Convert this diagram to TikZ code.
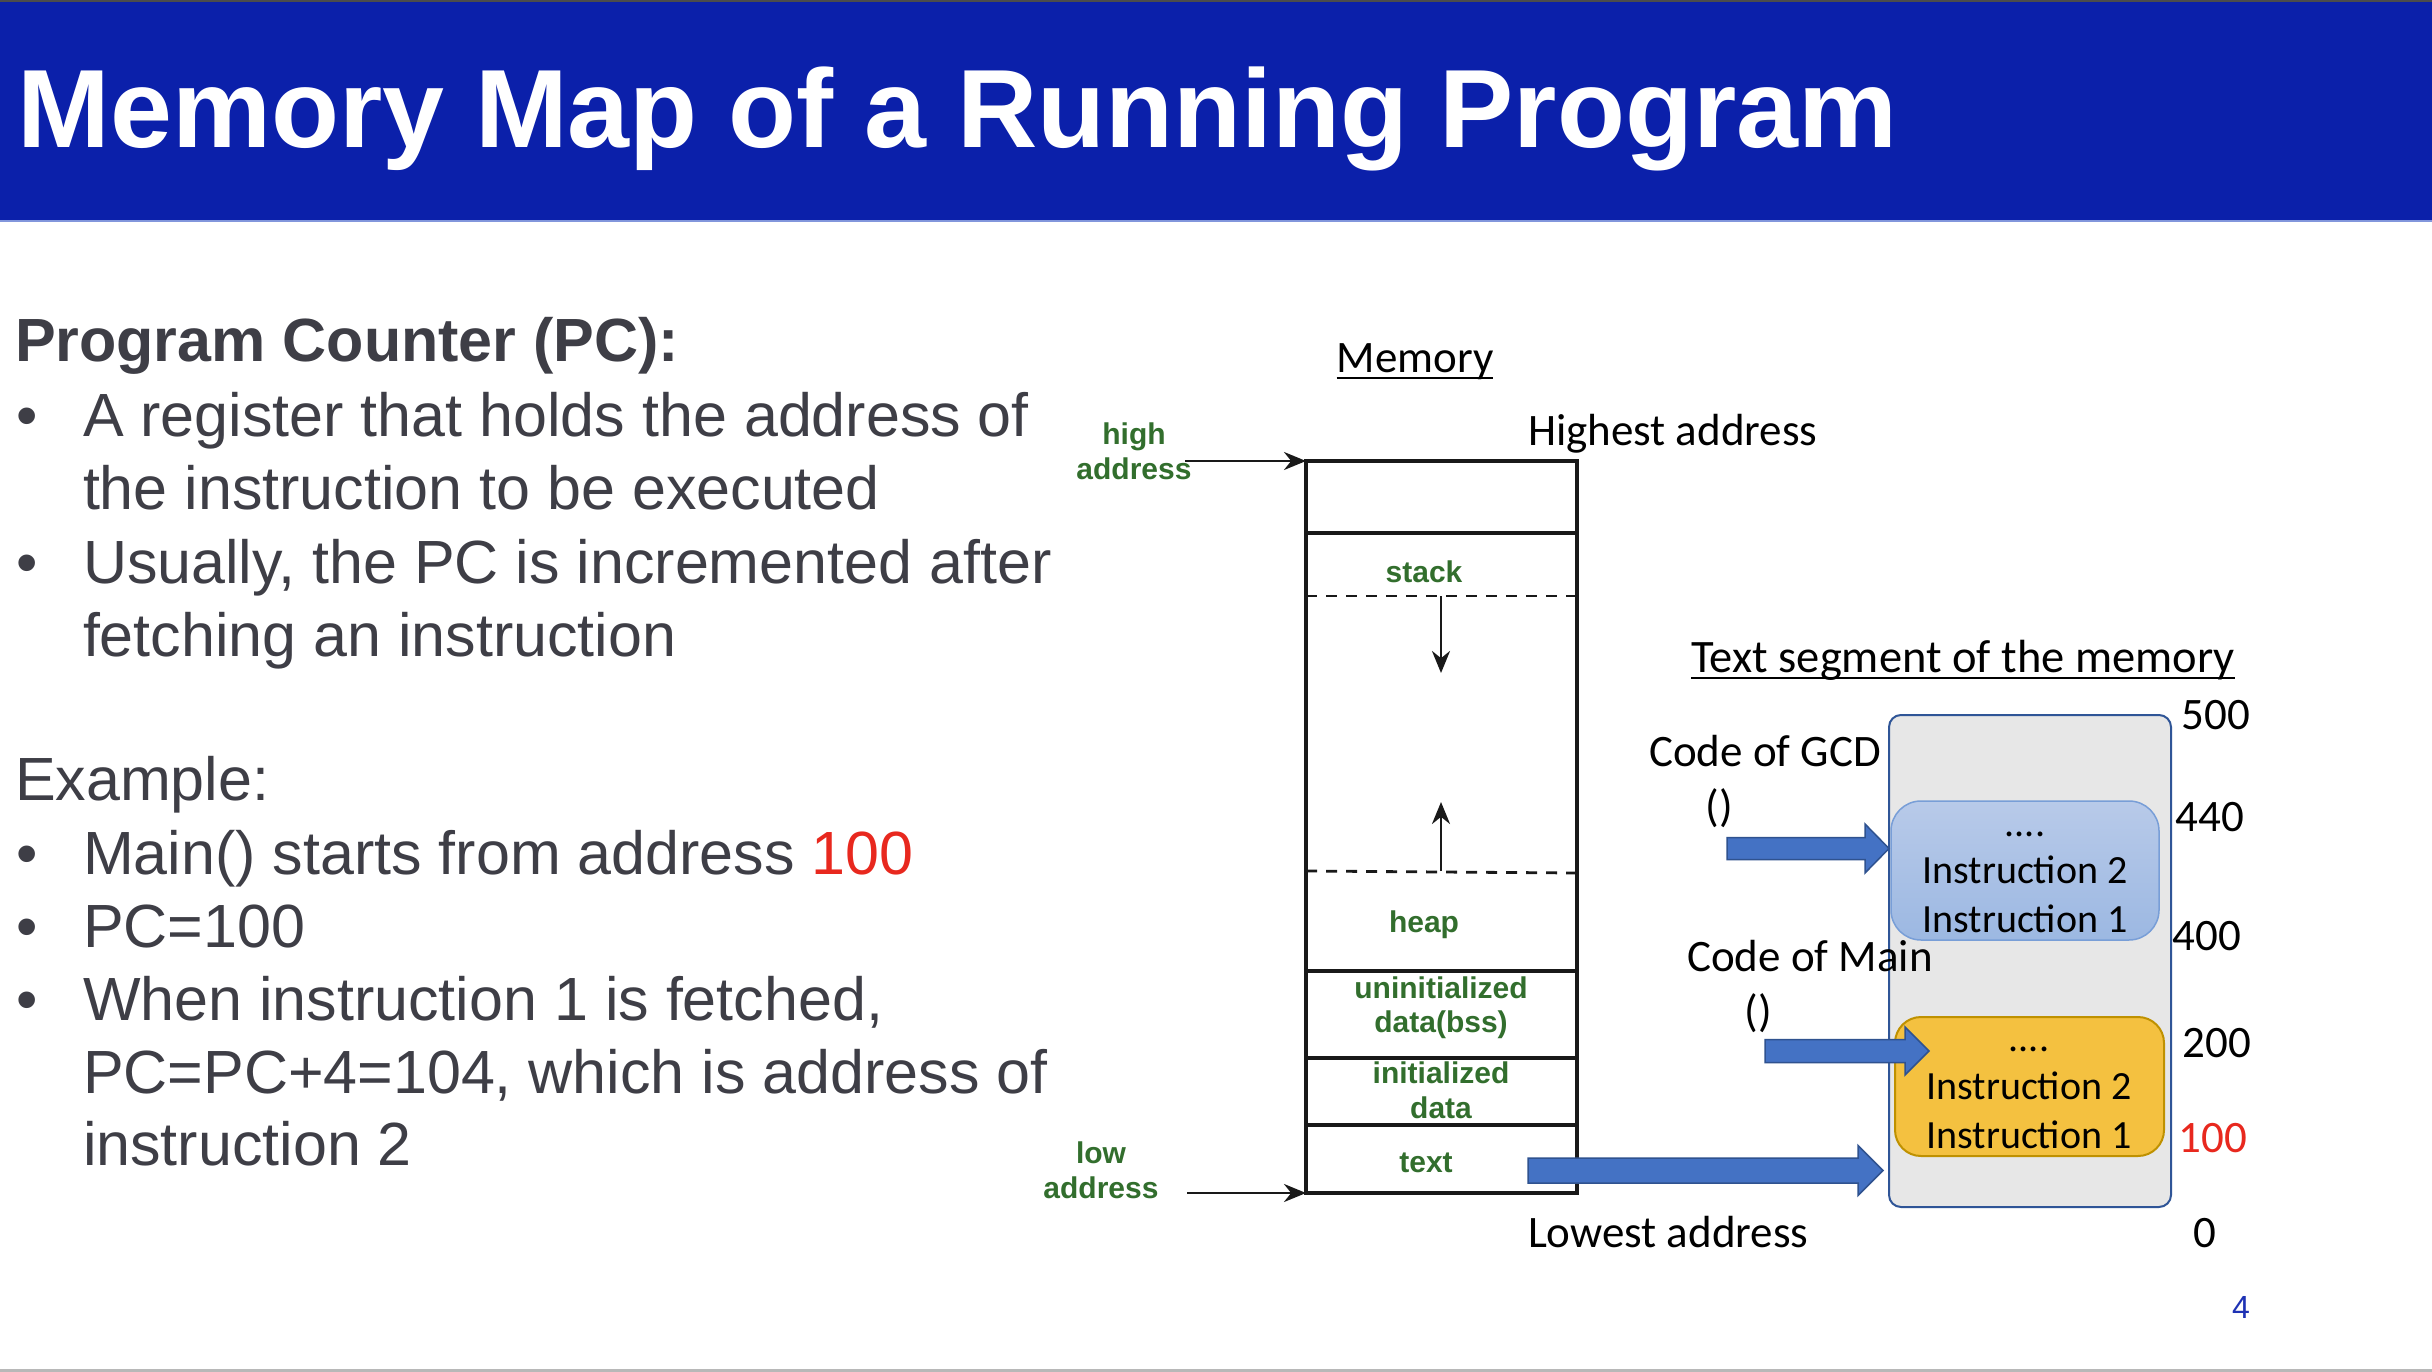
\documentclass[tikz,border=0pt]{standalone}
\usepackage{fontspec}
\setmainfont{Liberation Sans}
\newfontfamily\calfont{Carlito}
\usetikzlibrary{arrows.meta}

\definecolor{titlebar}{RGB}{11,32,170}
\definecolor{titleedge}{RGB}{130,150,220}
\definecolor{bodytext}{RGB}{62,62,70}
\definecolor{accentred}{RGB}{232,40,30}
\definecolor{seggreen}{RGB}{50,110,45}
\definecolor{arrowblue}{RGB}{68,114,196}
\definecolor{arrowedge}{RGB}{47,82,143}
\definecolor{panelgray}{RGB}{231,231,231}
\definecolor{paneledge}{RGB}{47,85,151}
\definecolor{gcdtop}{RGB}{184,202,233}
\definecolor{gcdbot}{RGB}{156,184,226}
\definecolor{gcdedge}{RGB}{120,158,215}
\definecolor{mainfill}{RGB}{244,193,64}
\definecolor{mainedge}{RGB}{191,145,0}
\definecolor{pagenum}{RGB}{30,50,180}
\definecolor{inkline}{RGB}{25,25,25}

\newcommand\fsz[1]{\fontsize{#1}{#1}\selectfont}
% block arrow: x-start, x-tip, y-centre, shaft half-height, head half-height, head length
\newcommand\blockarr[6]{%
  \filldraw[blockarrow] (#1,{#3-#4}) -- ({#2-#6},{#3-#4}) -- ({#2-#6},{#3-#5})
    -- (#2,#3) -- ({#2-#6},{#3+#5}) -- ({#2-#6},{#3+#4}) -- (#1,{#3+#4}) -- cycle;}

\begin{document}
\begin{tikzpicture}[x=1pt,y=-1pt,
  every node/.style={inner sep=0pt, outer sep=0pt},
  body/.style={anchor=base west, text=bodytext, font=\fsz{61}},
  bullet/.style={anchor=base, text=bodytext, font=\fsz{61}},
  seg/.style={anchor=base, text=seggreen, font=\bfseries\fsz{30}},
  cal/.style={anchor=base, font=\calfont\fsz{45}},
  instr/.style={anchor=base, font=\calfont\fsz{40}},
  cell/.style={draw=inkline, line width=3.2pt, minimum width=271pt},
  split/.style={draw=inkline, line width=2.8pt, dash pattern=on 11pt off 9pt},
  ptr/.style={draw=inkline, line width=2.8pt, -{Stealth[length=22pt,width=18pt]}},
  blockarrow/.style={fill=arrowblue, draw=arrowedge, line width=1.5pt}
]
\useasboundingbox (0,0) rectangle (2432,1372);
\fill[white] (0,0) rectangle (2432,1372);

% title bar
\fill[black!70] (0,0) rectangle (2432,2);
\fill[titlebar] (0,2) rectangle (2432,220);
\fill[titleedge] (0,220) rectangle (2432,222);
\fill[black!28] (0,1369) rectangle (2432,1372);
\node[anchor=base west, text=white, font=\bfseries\fsz{111.3}] (title) at (17.5,148)
  {Memory Map of a Running Program};

% left column text
\node[body, font=\bfseries\fsz{61}] (pchead) at (15,361) {Program Counter (PC):};
\node[bullet] (d1) at (27,436) {•};
\node[body] (b1a) at (83,436) {A register that holds the address of};
\node[body] (b1b) at (83,509) {the instruction to be executed};
\node[bullet] (d2) at (27,583) {•};
\node[body] (b2a) at (83,583) {Usually, the PC is incremented after};
\node[body] (b2b) at (83,656) {fetching an instruction};

\node[body] (exhead) at (15,800) {Example:};
\node[bullet] (d3) at (27,874) {•};
\node[body] (e1) at (83,874) {Main() starts from address \textcolor{accentred}{100}};
\node[bullet] (d4) at (27,947) {•};
\node[body] (e2) at (83,947) {PC=100};
\node[bullet] (d5) at (27,1020) {•};
\node[body] (e3a) at (83,1020) {When instruction 1 is fetched,};
\node[body] (e3b) at (83,1093) {PC=PC+4=104, which is address of};
\node[body] (e3c) at (83,1165) {instruction 2};

% memory column
\node[cell, minimum height=72pt]  (topcell)  at (1441.5,497) {};
\node[cell, minimum height=438pt] (freecell) at (1441.5,752) {};
\node[cell, minimum height=87pt]  (bsscell)  at (1441.5,1014.5) {};
\node[cell, minimum height=67pt]  (datacell) at (1441.5,1091.5) {};
\node[cell, minimum height=68pt]  (textcell) at (1441.5,1159) {};

\draw[split] (1306,596) -- (1577,596);
\draw[split] (1306,871) -- (1577,873);
\coordinate (stackedge) at (1441,596);
\coordinate (stackgrow) at (1441,673);
\coordinate (heapedge) at (1441,871);
\coordinate (heapgrow) at (1441,802);
\draw[ptr] (stackedge) -- (stackgrow);
\draw[ptr] (heapedge) -- (heapgrow);

\node[seg] (stacklbl) at (1424,582) {stack};
\node[seg] (heaplbl) at (1424,932) {heap};
\node[seg] (bsslbl1) at (1441,998) {uninitialized};
\node[seg] (bsslbl2) at (1441,1032) {data(bss)};
\node[seg] (datalbl1) at (1441,1083) {initialized};
\node[seg] (datalbl2) at (1441,1118) {data};
\node[seg] (textlbl) at (1426,1172) {text};

\node[seg] (hilbl1) at (1134,444) {high};
\node[seg] (hilbl2) at (1134,479) {address};
\node[seg] (lolbl1) at (1101,1163) {low};
\node[seg] (lolbl2) at (1101,1198) {address};
\coordinate (hitail) at (1185,461);
\coordinate (lotail) at (1187,1193);
\draw[ptr] (hitail) -- (topcell.north west);
\draw[ptr] (lotail) -- (textcell.south west);

\node[cal] (memtitle) at (1415,372) {Memory};
\draw[line width=2pt] ([yshift=-6pt]memtitle.base west) -- ([yshift=-6pt]memtitle.base east);
\node[cal, anchor=base west] (highest) at (1528,445) {Highest address};
\node[cal, anchor=base west] (lowest) at (1528,1247) {Lowest address};

% text segment detail
\node[cal, font=\calfont\fsz{46.5}] (segtitle) at (1963,672) {Text segment of the memory};
\draw[line width=2pt] ([yshift=-6pt]segtitle.base west) -- ([yshift=-6pt]segtitle.base east);

\node[draw=paneledge, fill=panelgray, line width=2pt, rounded corners=12pt,
      minimum width=282pt, minimum height=492pt] (panel) at (2030,961) {};
\node[draw=gcdedge, top color=gcdtop, bottom color=gcdbot, line width=1.5pt,
      rounded corners=30pt, minimum width=268pt, minimum height=139pt] (gcdbox) at (2025,870.5) {};
\node[draw=mainedge, fill=mainfill, line width=2pt, rounded corners=26pt,
      minimum width=269pt, minimum height=139pt] (mainbox) at (2029.5,1086.5) {};

\node[instr] (gcddots) at (2025,836) {....};
\node[instr] (gcdi2) at (2025,883) {Instruction 2};
\node[instr] (gcdi1) at (2025,932) {Instruction 1};
\node[instr] (maindots) at (2029,1051) {....};
\node[instr] (maini2) at (2029,1099) {Instruction 2};
\node[instr] (maini1) at (2029,1148) {Instruction 1};

\node[cal] (gcdlbl) at (1765,766) {Code of GCD};
\node[cal] (gcdpar) at (1719,821) {()};
\node[cal] (mainlbl) at (1810,971) {Code of Main};
\node[cal] (mainpar) at (1758,1026) {()};

\blockarr{1727}{1889}{848.5}{11}{24.5}{24}
\blockarr{1765}{1929}{1051}{11.5}{24}{24}
\blockarr{1528}{1883}{1170.5}{12.5}{25}{25}

\node[cal] (a500) at (2216,729) {500};
\node[cal] (a440) at (2210,831) {440};
\node[cal] (a400) at (2207,950) {400};
\node[cal] (a200) at (2217,1057) {200};
\node[cal, text=accentred] (a100) at (2213,1152) {100};
\node[cal] (a000) at (2205,1247) {0};

\node[anchor=base, text=pagenum, font=\fsz{32}] (pgno) at (2241,1318) {4};
\end{tikzpicture}
\end{document}
